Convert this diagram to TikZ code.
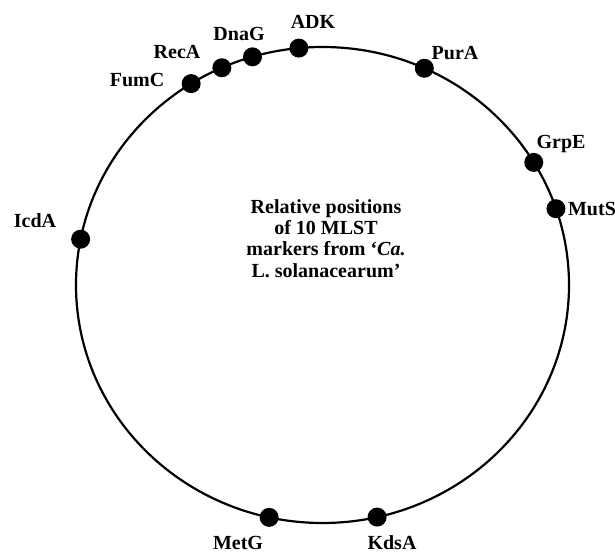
\documentclass[tikz,border=0pt]{standalone}
\usepackage{fontspec}
\setmainfont{Liberation Serif}
\begin{document}
\begin{tikzpicture}[x=1pt,y=-1pt,
  ring/.style={line width=2.2pt,black},
  marker/.style={circle,fill=black,inner sep=0pt,minimum size=19pt},
  lbl/.style={font=\bfseries\fontsize{20}{20}\selectfont,inner sep=0pt},
  centertext/.style={font=\bfseries\fontsize{20}{21.3}\selectfont,align=center,inner sep=0pt}]
\useasboundingbox (0,0) rectangle (615,553);
\fill[white] (0,0) rectangle (615,553);
\draw[ring] (322.5,285) ellipse [x radius=246.5pt, y radius=238pt];
\foreach \nm/\a in {adk/95.5,dnag/106.5,reca/114.1,fumc/122.2,pura/65.6,grpe/31.0,muts/18.7,icda/168.9,metg/257.5,kdsa/282.8}{
  \node[marker] (\nm) at ({322.5+246.5*cos(\a)},{285-238*sin(\a)}) {};
}
\node[lbl] (tadk) at (313,22) {ADK};
\node[lbl] (tdnag) at (239,34) {DnaG};
\node[lbl] (treca) at (177,52) {RecA};
\node[lbl] (tfumc) at (137,80) {FumC};
\node[lbl] (tpura) at (455,53) {PurA};
\node[lbl] (tgrpe) at (561,144) {GrpE};
\node[lbl] (tmuts) at (592,209) {MutS};
\node[lbl] (ticda) at (35,221) {IcdA};
\node[lbl] (tmetg) at (238,542.5) {MetG};
\node[lbl] (tkdsa) at (392,542.5) {KdsA};
\node[centertext] (title) at (326,238.5) {Relative positions\\of 10 MLST\\markers from ‘\textit{Ca.}\\L. solanacearum’};
\end{tikzpicture}
\end{document}
